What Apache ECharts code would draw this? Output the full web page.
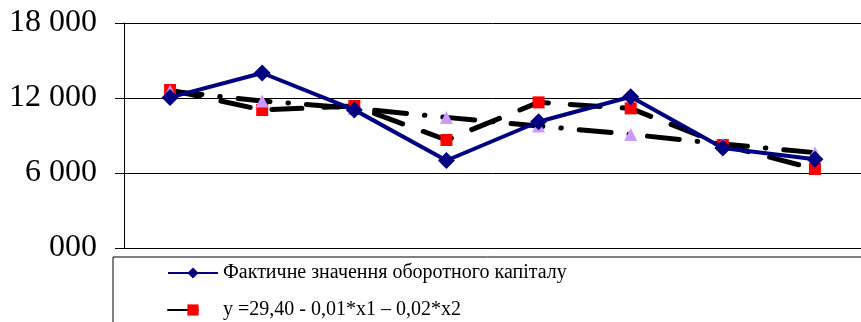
<!DOCTYPE html>
<html><head><meta charset="utf-8">
<script src="https://cdn.jsdelivr.net/npm/echarts@6/dist/echarts.min.js"></script>
<style>html,body{margin:0;padding:0;background:#fff}#c{width:861px;height:322px}</style>
</head><body><div id="c"></div>
<script>
const categories = ['1','2','3','4','5','6','7','8'];
const actual = [12050, 14000, 11050, 7000, 10100, 12100, 8000, 7100];
const model1 = [12640, 11040, 11360, 8640, 11650, 11170, 8240, 6320];
const model2 = [12550, 11760, 11170, 10450, 9760, 9090, 8320, 7630];
const yTicks = {0:'000', 6000:'6 000', 12000:'12 000', 18000:'18 000'};
const names = ['Фактичне значення оборотного капіталу', 'y =29,40 - 0,01*x1 – 0,02*x2', 'y (2)'];

const chart = echarts.init(document.getElementById('c'));
const font = "'Liberation Serif', 'DejaVu Serif', serif";
chart.setOption({
  animation: false,
  grid: {left: 124, top: 23, width: 748, bottom: 74, containLabel: false},
  xAxis: {type: 'category', data: categories, boundaryGap: true,
    axisLine: {lineStyle: {color: '#000', width: 1}}, axisTick: {show: false}, axisLabel: {show: false}},
  yAxis: {type: 'value', min: 0, max: 18000, interval: 6000,
    axisLine: {show: true, lineStyle: {color: '#000', width: 1}},
    axisTick: {show: true, length: 9, lineStyle: {color: '#000'}},
    splitLine: {lineStyle: {color: '#000', width: 1}},
    axisLabel: {fontFamily: font, fontSize: 32, color: '#000', margin: 27, formatter: v => yTicks[v]}},
  legend: {orient: 'vertical', left: 113, top: 257, height: 200, data: [names[0], names[1]],
    backgroundColor: '#fff', borderColor: '#000', borderWidth: 1,
    padding: [3, 600, 20, 54], itemGap: 11, itemWidth: 50, itemHeight: 14,
    textStyle: {fontFamily: font, fontSize: 20, color: '#000', lineHeight: 26}},
  series: [
    {name: names[0], type: 'line', data: actual, symbol: 'diamond', symbolSize: 17, z: 3,
      lineStyle: {color: '#000080', width: 4}, itemStyle: {color: '#000080'}},
    {name: names[1], type: 'line', data: model1, symbol: 'rect', symbolSize: 12, z: 2,
      lineStyle: {color: '#000', width: 5, type: [30, 22], cap: 'round'}, itemStyle: {color: '#ff0000'}},
    {name: names[2], type: 'line', data: model2, symbol: 'triangle', symbolSize: 13, z: 2,
      lineStyle: {color: '#000', width: 5, type: [32, 18, 0.5, 18], cap: 'round'}, itemStyle: {color: '#cc99ff'}}
  ]
});
</script></body></html>
